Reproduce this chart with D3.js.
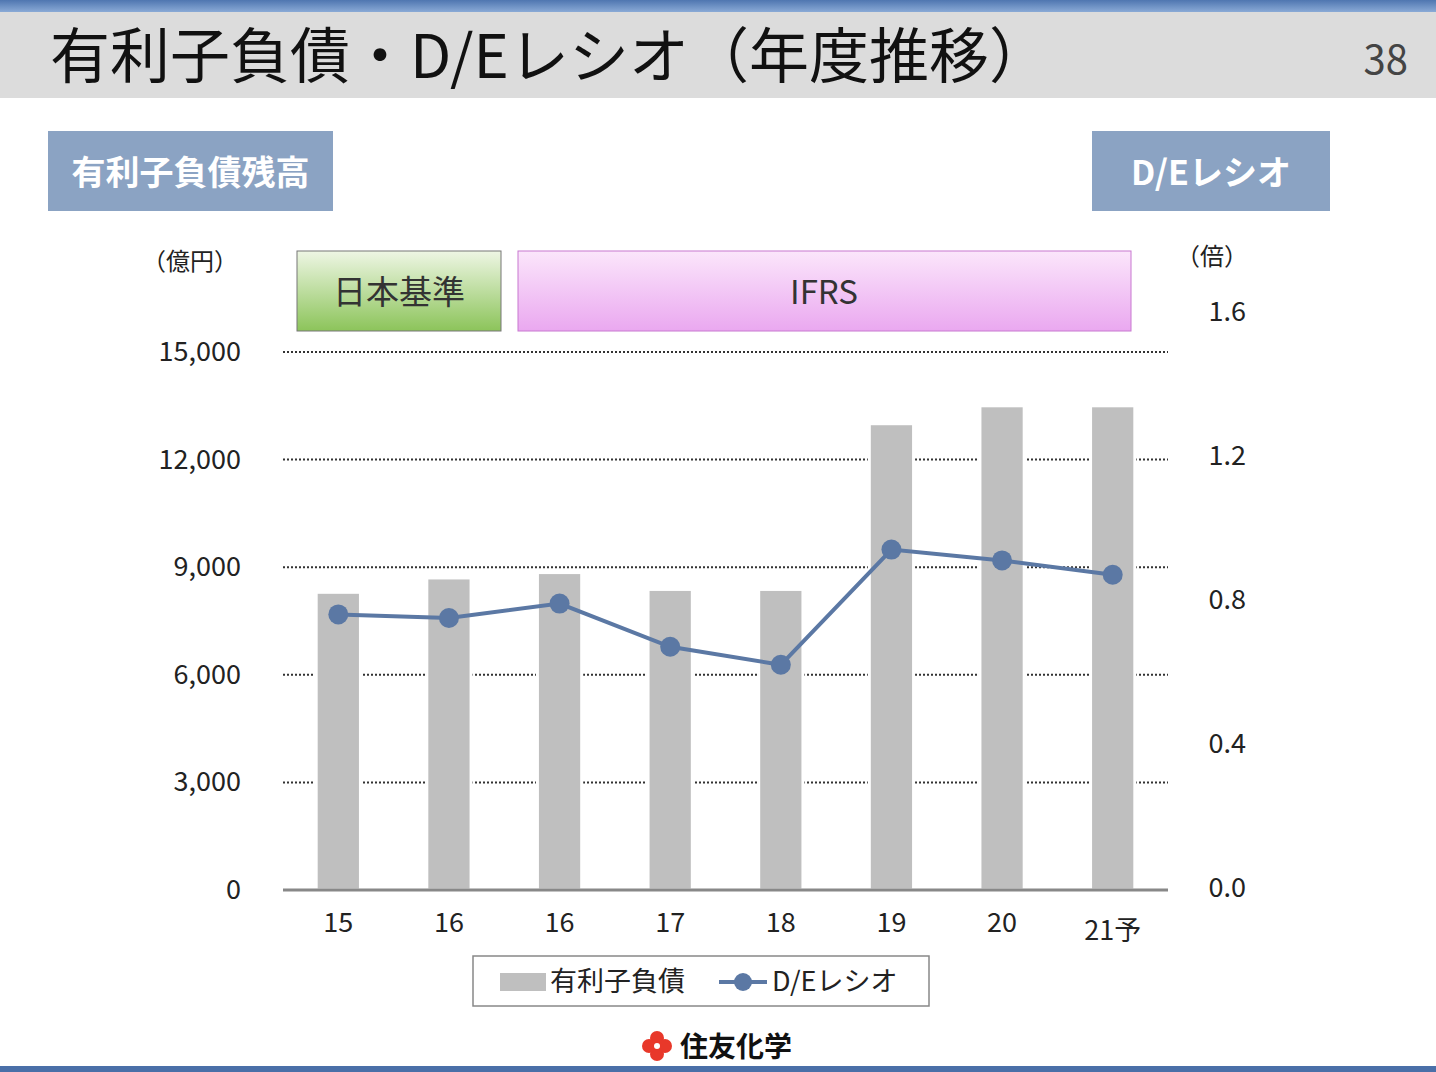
<!DOCTYPE html>
<html><head><meta charset="utf-8">
<script src="https://cdn.jsdelivr.net/npm/d3@7"></script>
<style>body{margin:0;background:#fff}svg{display:block}text{font-family:"Noto Sans CJK JP","Noto Sans",sans-serif}</style>
</head><body>
<svg id="c" width="1436" height="1072"></svg>
<script>
const categories = ["15", "16", "16", "17", "18", "19", "20", "21予"];
const debt = [8300, 8700, 8850, 8380, 8380, 13000, 13500, 13500];
const deRatio = [0.76, 0.75, 0.79, 0.67, 0.62, 0.94, 0.91, 0.87];
const leftTicks = [0, 3000, 6000, 9000, 12000, 15000];
const rightTicks = [0, 0.4, 0.8, 1.2, 1.6];

const svg = d3.select("#c");
const blue = "#5b78a4";

// header
const hg = svg.append("defs").append("linearGradient").attr("id", "hg").attr("x2", 0).attr("y2", 1);
hg.append("stop").attr("offset", 0).attr("stop-color", "#4f76b0");
hg.append("stop").attr("offset", 1).attr("stop-color", "#8aaad6");
svg.append("rect").attr("width", 1436).attr("height", 12).attr("fill", "url(#hg)");
svg.append("rect").attr("y", 12).attr("width", 1436).attr("height", 86).attr("fill", "#dcdcdc");
svg.append("text").attr("x", 50).attr("y", 78).attr("font-size", 60).attr("fill", "#111")
  .text("有利子負債・D/Eレシオ（年度推移）");
svg.append("text").attr("x", 1408).attr("y", 74).attr("text-anchor", "end").attr("font-size", 40).attr("fill", "#444").text("38");
svg.append("rect").attr("y", 1066).attr("width", 1436).attr("height", 6).attr("fill", "#4a6fa8");

// label boxes
function labelBox(x, w, t) {
  svg.append("rect").attr("x", x).attr("y", 131).attr("width", w).attr("height", 80).attr("fill", "#8ba3c3");
  svg.append("text").attr("x", x + w / 2).attr("y", 185).attr("text-anchor", "middle")
    .attr("font-size", 34).attr("font-weight", "bold").attr("fill", "#fff").text(t);
}
labelBox(48, 285, "有利子負債残高");
labelBox(1092, 238, "D/Eレシオ");

// standard boxes
const defs = svg.select("defs");
const g1 = defs.append("linearGradient").attr("id", "g1").attr("x2", 0).attr("y2", 1);
g1.append("stop").attr("offset", 0).attr("stop-color", "#eef6e4");
g1.append("stop").attr("offset", 1).attr("stop-color", "#8cc45a");
const g2 = defs.append("linearGradient").attr("id", "g2").attr("x2", 0).attr("y2", 1);
g2.append("stop").attr("offset", 0).attr("stop-color", "#fbe6fb");
g2.append("stop").attr("offset", 1).attr("stop-color", "#eaa8f0");
svg.append("rect").attr("x", 297).attr("y", 251).attr("width", 204).attr("height", 80).attr("fill", "url(#g1)").attr("stroke", "#777");
svg.append("text").attr("x", 399).attr("y", 304).attr("text-anchor", "middle").attr("font-size", 33).attr("fill", "#333").text("日本基準");
svg.append("rect").attr("x", 518).attr("y", 251).attr("width", 613).attr("height", 80).attr("fill", "url(#g2)").attr("stroke", "#c878d0");
svg.append("text").attr("x", 824).attr("y", 304).attr("text-anchor", "middle").attr("font-size", 33).attr("fill", "#333").text("IFRS");

// scales
const x = d3.scaleBand().domain(d3.range(categories.length)).range([283, 1168]).paddingInner(0.6).paddingOuter(0.3);
const yL = d3.scaleLinear().domain([0, 15000]).range([890, 352]);
const yR = d3.scaleLinear().domain([0, 1.6]).range([888, 312]);

svg.append("text").attr("x", 190).attr("y", 270).attr("text-anchor", "middle").attr("font-size", 24).attr("fill", "#222").text("（億円）");
svg.append("text").attr("x", 1212).attr("y", 265).attr("text-anchor", "middle").attr("font-size", 24).attr("fill", "#222").text("（倍）");

// grid
svg.append("g").selectAll("line").data(leftTicks.filter(d => d > 0)).join("line")
  .attr("x1", 283).attr("x2", 1168).attr("y1", d => yL(d)).attr("y2", d => yL(d))
  .attr("stroke", "#333").attr("stroke-width", 2).attr("stroke-dasharray", "2,2");
svg.append("g").selectAll("text").data(leftTicks).join("text")
  .attr("x", 241).attr("y", d => yL(d) + 9).attr("text-anchor", "end").attr("font-size", 27).attr("fill", "#222")
  .text(d3.format(","));
svg.append("g").selectAll("text").data(rightTicks).join("text")
  .attr("x", 1246).attr("y", d => yR(d) + 9).attr("text-anchor", "end").attr("font-size", 27).attr("fill", "#222")
  .text(d3.format(".1f"));

// bars
svg.append("g").selectAll("rect").data(debt).join("rect")
  .attr("x", (d, i) => x(i)).attr("width", x.bandwidth()).attr("y", d => yL(d)).attr("height", d => yL(0) - yL(d))
  .attr("fill", "#bfbfbf").attr("stroke", "#fff").attr("stroke-width", 3);
svg.append("line").attr("x1", 283).attr("x2", 1168).attr("y1", 890).attr("y2", 890).attr("stroke", "#888").attr("stroke-width", 3);

svg.append("g").selectAll("text").data(categories).join("text")
  .attr("x", (d, i) => x(i) + x.bandwidth() / 2).attr("y", (d, i) => i === 7 ? 940 : 932)
  .attr("text-anchor", "middle").attr("font-size", 27).attr("fill", "#222").text(d => d);

// line
const cx = i => x(i) + x.bandwidth() / 2;
svg.append("path").datum(deRatio).attr("fill", "none").attr("stroke", blue).attr("stroke-width", 4)
  .attr("d", d3.line().x((d, i) => cx(i)).y(d => yR(d)));
svg.append("g").selectAll("circle").data(deRatio).join("circle")
  .attr("cx", (d, i) => cx(i)).attr("cy", d => yR(d)).attr("r", 10).attr("fill", blue);

// legend
svg.append("rect").attr("x", 473).attr("y", 956).attr("width", 456).attr("height", 50).attr("fill", "#fff").attr("stroke", "#888").attr("stroke-width", 1.5);
svg.append("rect").attr("x", 500).attr("y", 973).attr("width", 46).attr("height", 18).attr("fill", "#bfbfbf");
svg.append("text").attr("x", 550).attr("y", 991).attr("font-size", 27).attr("fill", "#222").text("有利子負債");
svg.append("line").attr("x1", 719).attr("x2", 767).attr("y1", 982).attr("y2", 982).attr("stroke", blue).attr("stroke-width", 4);
svg.append("circle").attr("cx", 743).attr("cy", 982).attr("r", 9).attr("fill", blue);
svg.append("text").attr("x", 772).attr("y", 991).attr("font-size", 27).attr("fill", "#222").text("D/Eレシオ");

// logo
const lg = svg.append("g").attr("transform", "translate(657,1046)");
[[0, -8], [0, 8], [-8, 0], [8, 0]].forEach(p => lg.append("circle").attr("cx", p[0]).attr("cy", p[1]).attr("r", 7).attr("fill", "#e8382a"));
lg.append("circle").attr("r", 3).attr("fill", "#fff");
svg.append("text").attr("x", 680).attr("y", 1057).attr("font-size", 28).attr("font-weight", "bold").attr("fill", "#111").text("住友化学");
</script>
</body></html>
